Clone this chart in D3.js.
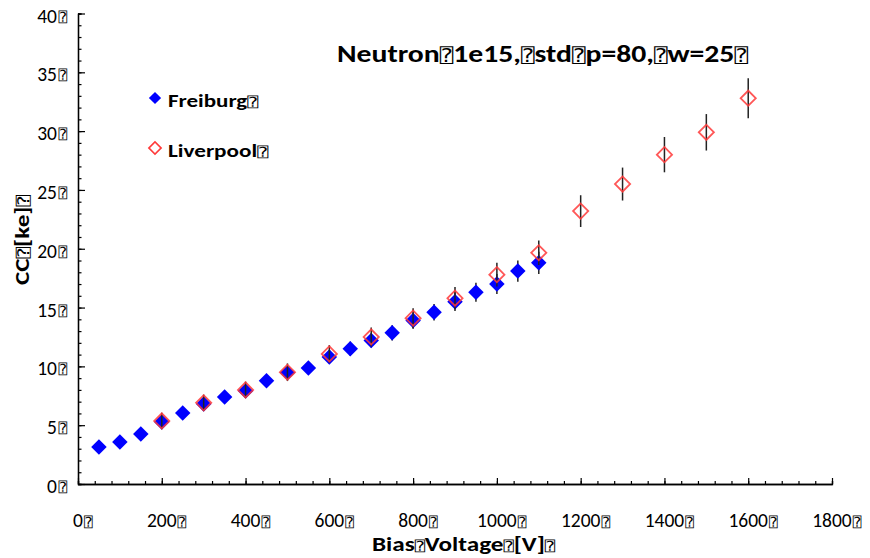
<!DOCTYPE html>
<html>
<head>
<meta charset="utf-8">
<script src="https://cdn.jsdelivr.net/npm/d3@7"></script>
<style>
  body { margin: 0; background: #fff; }
  text { font-family: Carlito, Lato, "Open Sans", sans-serif; }
  .box { font-family: "DejaVu Sans", "DejaVu Sans Mono", sans-serif; font-weight: normal; }
</style>
</head>
<body>
<svg id="chart" width="870" height="558"></svg>
<script>
const BOX = '\u2370';

// Freiburg
const freiburgV = [50, 100, 150, 200, 250, 300, 350, 400, 450, 500, 550, 600, 650, 700, 750, 800, 850, 900, 950, 1000, 1050, 1100];
const freiburgCC = [3.15, 3.57, 4.26, 5.28, 6.04, 6.8, 7.4, 7.9, 8.77, 9.45, 9.87, 10.8, 11.5, 12.2, 12.85, 13.9, 14.6, 15.5, 16.3, 17.0, 18.1, 18.8];
const freiburgErr = [0.2, 0.2, 0.25, 0.3, 0.3, 0.35, 0.4, 0.4, 0.45, 0.5, 0.5, 0.55, 0.6, 0.6, 0.65, 0.7, 0.7, 0.8, 0.8, 0.85, 0.9, 0.95];

// Liverpool
const liverpoolV = [200, 300, 400, 500, 600, 700, 800, 900, 1000, 1100, 1200, 1300, 1400, 1500, 1600];
const liverpoolCC = [5.36, 6.9, 8.0, 9.5, 11.06, 12.5, 14.1, 15.8, 17.8, 19.66, 23.2, 25.5, 28.0, 29.9, 32.8];
const liverpoolErr = [0.7, 0.7, 0.7, 0.75, 0.75, 0.8, 0.85, 0.95, 1.0, 1.05, 1.35, 1.4, 1.5, 1.55, 1.7];

const xTicks = [0, 200, 400, 600, 800, 1000, 1200, 1400, 1600, 1800];
const yTicks = [0, 5, 10, 15, 20, 25, 30, 35, 40];

const svg = d3.select('#chart');
const x = d3.scaleLinear().domain([0, 1800]).range([78, 832]);
const y = d3.scaleLinear().domain([0, 40]).range([484, 13.5]);

// minor ticks
const xAxisMinor = d3.axisBottom(x).tickValues(d3.range(0, 1801, 40)).tickSize(-3).tickFormat('');
const yAxisMinor = d3.axisLeft(y).tickValues(d3.range(0, 41, 1)).tickSize(-3.5).tickFormat('');
svg.append('g').attr('transform', `translate(0,${y(0)})`).call(xAxisMinor);
svg.append('g').attr('transform', `translate(${x(0)},0)`).call(yAxisMinor);

// major ticks
const xAxis = d3.axisBottom(x).tickValues(xTicks).tickSize(-6).tickSizeOuter(0).tickFormat('');
const yAxis = d3.axisLeft(y).tickValues(yTicks).tickSize(-7).tickSizeOuter(0).tickFormat('');
svg.append('g').attr('transform', `translate(0,${y(0)})`).call(xAxis);
svg.append('g').attr('transform', `translate(${x(0)},0)`).call(yAxis);

svg.selectAll('.domain').attr('stroke', '#000').attr('stroke-width', 1.3);
svg.selectAll('.tick line').attr('stroke', '#000').attr('stroke-width', 1.2);

// x tick labels
xTicks.forEach(v => {
  const t = svg.append('text')
    .attr('x', x(v)).attr('y', 527)
    .attr('text-anchor', 'middle')
    .attr('font-size', 19.5)
    .text(v);
  const w = t.node().getComputedTextLength();
  svg.append('text').attr('class', 'box')
    .attr('x', x(v) + w / 2 + 1).attr('y', 527)
    .attr('font-size', 14)
    .text(BOX);
});

// y tick labels
yTicks.forEach(v => {
  svg.append('text').attr('class', 'box')
    .attr('x', 67).attr('y', y(v) + 8)
    .attr('text-anchor', 'end')
    .attr('font-size', 14)
    .text(BOX);
  svg.append('text')
    .attr('x', 57).attr('y', y(v) + 9)
    .attr('text-anchor', 'end')
    .attr('font-size', 19.5)
    .text(v);
});

function richText(sel, parts, size, boxSize, len) {
  parts.forEach(p => {
    if (p === BOX) sel.append('tspan').attr('class', 'box').attr('font-size', boxSize).text(BOX);
    else sel.append('tspan').attr('font-size', size).text(p);
  });
  if (len) sel.attr('textLength', len).attr('lengthAdjust', 'spacingAndGlyphs');
  return sel;
}

// axis titles
richText(svg.append('text').attr('x', 372).attr('y', 551).attr('font-weight', 'bold'),
  ['Bias', BOX, 'Voltage', BOX, '[V]', BOX], 21, 14, 183);
richText(svg.append('text').attr('transform', 'translate(29,285) rotate(-90)').attr('font-weight', 'bold'),
  ['CC', BOX, '[ke]', BOX], 21, 16, 90);

// title
richText(svg.append('text').attr('x', 337).attr('y', 62).attr('font-weight', 'bold'),
  ['Neutron', BOX, '1e15,', BOX, 'std', BOX, 'p=80,', BOX, 'w=25', BOX], 25, 19, 411);

const blueSym = d3.symbol().type(d3.symbolSquare).size(120);
const redSym = d3.symbol().type(d3.symbolSquare).size(115);

// Freiburg error bars + markers
const fData = freiburgV.map((v, i) => ({ v, cc: freiburgCC[i], e: freiburgErr[i] }));
svg.append('g').selectAll('line').data(fData).join('line')
  .attr('x1', d => x(d.v)).attr('x2', d => x(d.v))
  .attr('y1', d => y(d.cc + d.e)).attr('y2', d => y(d.cc - d.e))
  .attr('stroke', '#222').attr('stroke-width', 1.5);
svg.append('g').selectAll('path').data(fData).join('path')
  .attr('d', blueSym)
  .attr('transform', d => `translate(${x(d.v)},${y(d.cc)}) rotate(45)`)
  .attr('fill', '#0000ff');

// Liverpool error bars + markers
const lData = liverpoolV.map((v, i) => ({ v, cc: liverpoolCC[i], e: liverpoolErr[i] }));
svg.append('g').selectAll('line').data(lData).join('line')
  .attr('x1', d => x(d.v)).attr('x2', d => x(d.v))
  .attr('y1', d => y(d.cc + d.e)).attr('y2', d => y(d.cc - d.e))
  .attr('stroke', '#222').attr('stroke-width', 1.5);
svg.append('g').selectAll('path').data(lData).join('path')
  .attr('d', redSym)
  .attr('transform', d => `translate(${x(d.v)},${y(d.cc)}) rotate(45)`)
  .attr('fill', 'none')
  .attr('stroke', '#ff3a3a').attr('stroke-opacity', 0.85).attr('stroke-width', 1.8);

// legend
svg.append('path').attr('d', d3.symbol().type(d3.symbolSquare).size(75))
  .attr('transform', 'translate(155,98) rotate(45)').attr('fill', '#0000ff');
richText(svg.append('text').attr('x', 168).attr('y', 107).attr('font-weight', 'bold'), ['Freiburg', BOX], 18, 14, 90);
svg.append('path').attr('d', d3.symbol().type(d3.symbolSquare).size(75))
  .attr('transform', 'translate(155,148) rotate(45)').attr('fill', 'none')
  .attr('stroke', '#ff3a3a').attr('stroke-width', 1.6);
richText(svg.append('text').attr('x', 168).attr('y', 157).attr('font-weight', 'bold'), ['Liverpool', BOX], 18, 14, 100);
</script>
</body>
</html>
